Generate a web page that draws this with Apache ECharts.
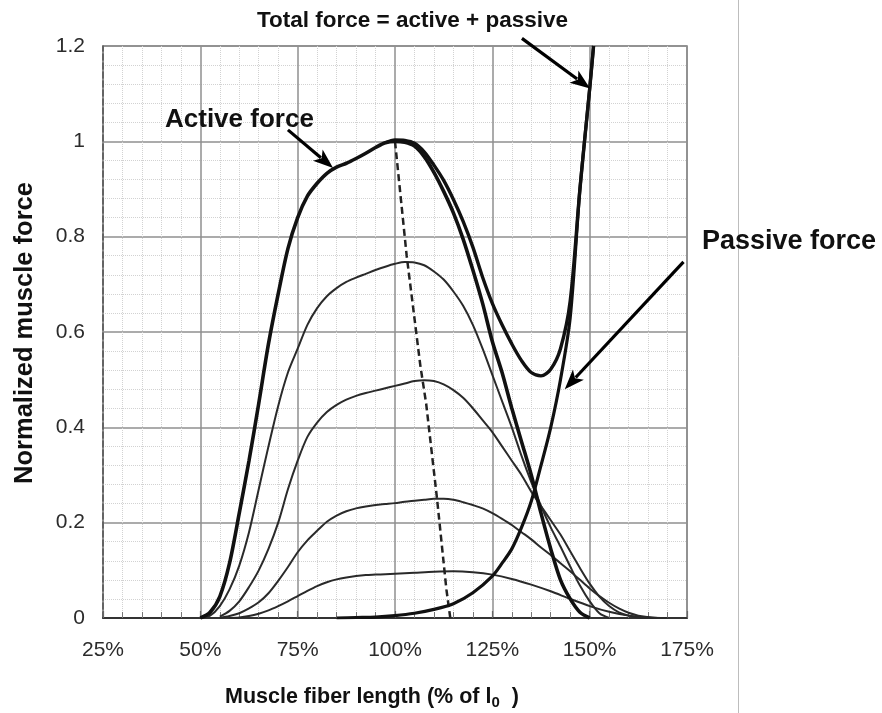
<!DOCTYPE html>
<html><head><meta charset="utf-8">
<script src="https://cdn.jsdelivr.net/npm/echarts@6/dist/echarts.min.js"></script>
<style>html,body{margin:0;padding:0;background:#fff}#c{width:882px;height:713px}</style>
</head><body><div id="c"></div>
<script>
// ---- data (fiber length in % of l0, normalized force) ----
const xTicks = [25, 50, 75, 100, 125, 150, 175];
const yTicks = [0, 0.2, 0.4, 0.6, 0.8, 1, 1.2];

const activeX = [50,52.5,55,57.5,60,62.5,65,67.5,70,72.5,75,77.5,80,82.5,85,87.5,90,92.5,95,97.5,100,102.5,105,107.5,110,112.5,115,117.5,120,122.5,125,127.5,130,132.5,135,137.5,140,142.5,145,147.5,150];
const activeY = [0,0.012,0.045,0.115,0.22,0.33,0.45,0.575,0.68,0.775,0.84,0.885,0.912,0.933,0.946,0.954,0.964,0.975,0.987,0.997,1.0,0.998,0.99,0.968,0.935,0.895,0.85,0.795,0.73,0.66,0.58,0.515,0.44,0.37,0.30,0.22,0.145,0.08,0.04,0.012,0];

const totalX = [97.5,100,102.5,105,107.5,110,112.5,115,117.5,120,122.5,125,127.5,130,132.5,135,137.5,140,142.5,145,147.5,150,151];
const totalY = [0.997,1.003,1.002,0.996,0.978,0.95,0.918,0.878,0.832,0.778,0.715,0.66,0.615,0.575,0.54,0.515,0.508,0.522,0.565,0.665,0.9,1.11,1.2];

const passiveX = [85,90,95,100,105,110,115,120,125,127.5,130,132.5,135,137.5,140,142.5,145,147.5,150,151];
const passiveY = [0,0.001,0.002,0.005,0.01,0.018,0.03,0.053,0.088,0.115,0.145,0.19,0.245,0.32,0.40,0.5,0.63,0.9,1.11,1.2];

const a75X = [50,52.5,55,57.5,60,62.5,65,67.5,70,72.5,75,77.5,80,82.5,85,87.5,90,92.5,95,97.5,100,102.5,105,107.5,110,112.5,115,117.5,120,122.5,125,127.5,130,132.5,135,137.5,140,142.5,145,147.5,150,152.5,155];
const a75Y = [0,0.005,0.025,0.06,0.11,0.18,0.27,0.36,0.445,0.515,0.565,0.615,0.65,0.675,0.692,0.705,0.714,0.722,0.73,0.737,0.743,0.747,0.746,0.74,0.727,0.71,0.685,0.655,0.615,0.565,0.51,0.455,0.4,0.34,0.285,0.235,0.19,0.15,0.108,0.068,0.035,0.01,0];

const a50X = [55,57.5,60,62.5,65,67.5,70,72.5,75,77.5,80,82.5,85,87.5,90,92.5,95,97.5,100,102.5,105,107.5,110,112.5,115,117.5,120,122.5,125,127.5,130,132.5,135,137.5,140,142.5,145,147.5,150,152.5,155,157.5,160,162.5,165];
const a50Y = [0.003,0.015,0.035,0.065,0.1,0.145,0.2,0.27,0.33,0.38,0.41,0.432,0.447,0.458,0.466,0.472,0.477,0.482,0.487,0.492,0.497,0.499,0.497,0.49,0.478,0.462,0.44,0.415,0.39,0.36,0.33,0.3,0.265,0.235,0.205,0.175,0.14,0.105,0.072,0.045,0.025,0.012,0.005,0.001,0];

const a25X = [55,57.5,60,62.5,65,67.5,70,72.5,75,77.5,80,82.5,85,87.5,90,92.5,95,97.5,100,102.5,105,107.5,110,112.5,115,117.5,120,122.5,125,127.5,130,132.5,135,137.5,140,142.5,145,147.5,150,152.5,155,157.5,160,162.5,165,167.5];
const a25Y = [0,0.004,0.01,0.02,0.033,0.052,0.078,0.107,0.138,0.163,0.183,0.202,0.215,0.224,0.23,0.234,0.237,0.239,0.241,0.244,0.246,0.248,0.25,0.25,0.248,0.243,0.237,0.23,0.22,0.208,0.195,0.18,0.165,0.148,0.132,0.115,0.098,0.08,0.062,0.046,0.032,0.02,0.011,0.005,0.002,0];

const a10X = [57.5,60,62.5,65,67.5,70,72.5,75,77.5,80,82.5,85,87.5,90,92.5,95,97.5,100,105,110,115,120,125,130,135,140,145,150,155,160,165,170];
const a10Y = [0,0.001,0.004,0.009,0.016,0.025,0.035,0.046,0.057,0.067,0.075,0.081,0.085,0.088,0.09,0.091,0.092,0.093,0.095,0.097,0.098,0.096,0.091,0.082,0.07,0.056,0.04,0.025,0.013,0.005,0.001,0];

const peakX = [100,103,106.5,108,110.8,113.2,114.2];
const peakY = [1.0,0.76,0.53,0.45,0.25,0.06,0];

// annotation arrows (data space): tail -> tip
const arrowActive  = [[72.5, 1.024], [84.1, 0.944]];
const arrowTotal   = [[132.6, 1.216], [150.1, 1.111]];
const arrowPassive = [[174.1, 0.747], [143.6, 0.48]];

const labelTotal   = 'Total force = active + passive';
const labelActive  = 'Active force';
const labelPassive = 'Passive force';
const yTitle = 'Normalized muscle force';

// ---- chart ----
const FONT = '"Liberation Sans", Arial, Helvetica, sans-serif';
const pairs = (xs, ys) => xs.map((x, i) => [x, ys[i]]);
const chart = echarts.init(document.getElementById('c'), null, {renderer: 'canvas'});

function curve(name, xs, ys, width, color, z) {
  return {
    name, type: 'line', data: pairs(xs, ys), showSymbol: false, symbol: 'none',
    smooth: 0.3, z: z,
    lineStyle: {color: color, width: width}, emphasis: {disabled: true}
  };
}

const option = {
  animation: false,
  backgroundColor: '#fff',
  grid: {left: 103, right: 195, top: 46, bottom: 95, show: true, borderColor: '#7a7a7a', borderWidth: 1.5},
  xAxis: {
    type: 'value', min: xTicks[0], max: xTicks[xTicks.length - 1], interval: 25,
    axisLine: {show: true, onZero: false, lineStyle: {color: '#333', width: 2}},
    axisTick: {show: true, inside: true, length: 7, lineStyle: {color: '#666', width: 1.2}},
    minorTick: {show: true, splitNumber: 5, length: 6, lineStyle: {color: '#777', width: 1}},
    axisLabel: {formatter: '{value}%', fontSize: 21, color: '#2b2b2b', margin: 22, fontFamily: FONT},
    splitLine: {show: true, lineStyle: {color: '#8f8f8f', width: 1.5}},
    minorSplitLine: {show: true, lineStyle: {color: '#d2d2d2', type: 'dotted', width: 1}}
  },
  yAxis: {
    type: 'value', min: yTicks[0], max: yTicks[yTicks.length - 1], interval: 0.2,
    axisLine: {show: true, lineStyle: {color: '#555', width: 1.5, type: [6, 3]}},
    axisTick: {show: false},
    minorTick: {show: false, splitNumber: 5},
    axisLabel: {fontSize: 21, color: '#2b2b2b', margin: 18, fontFamily: FONT},
    splitLine: {show: true, lineStyle: {color: '#8f8f8f', width: 1.5}},
    minorSplitLine: {show: true, lineStyle: {color: '#d2d2d2', type: 'dotted', width: 1}}
  },
  series: [
    curve('a10', a10X, a10Y, 2, '#2a2a2a', 2),
    curve('a25', a25X, a25Y, 2, '#2a2a2a', 2),
    curve('a50', a50X, a50Y, 2, '#2a2a2a', 2),
    curve('a75', a75X, a75Y, 2, '#2a2a2a', 2),
    {
      name: 'peaks', type: 'line', data: pairs(peakX, peakY), showSymbol: false, symbol: 'none',
      smooth: false, z: 3, lineStyle: {color: '#222', width: 2.5, type: [7, 4]}
    },
    curve('passive', passiveX, passiveY, 3.2, '#111', 4),
    curve('total', totalX, totalY, 3.4, '#111', 5),
    curve('active', activeX, activeY, 3.6, '#111', 6)
  ]
};
chart.setOption(option);

// ---- annotations ----
function arrow(a) {
  const p0 = chart.convertToPixel({gridIndex: 0}, a[0]);
  const p1 = chart.convertToPixel({gridIndex: 0}, a[1]);
  const dx = p1[0] - p0[0], dy = p1[1] - p0[1];
  const len = Math.sqrt(dx * dx + dy * dy);
  const ux = dx / len, uy = dy / len, nx = -uy, ny = ux;
  const L = 20, W = 7.5;
  const bx = p1[0] - ux * L, by = p1[1] - uy * L;
  return [
    {type: 'line', z: 100, shape: {x1: p0[0], y1: p0[1], x2: bx + ux * 4, y2: by + uy * 4},
     style: {stroke: '#000', lineWidth: 3.2}},
    {type: 'polygon', z: 100, shape: {points: [p1, [bx + nx * W, by + ny * W], [bx + ux * 5, by + uy * 5], [bx - nx * W, by - ny * W]]},
     style: {fill: '#000'}}
  ];
}

const graphics = [].concat(
  arrow(arrowActive), arrow(arrowTotal), arrow(arrowPassive),
  [
    {type: 'line', z: 1, shape: {x1: 738.5, y1: 0, x2: 738.5, y2: 713}, style: {stroke: '#bdbdbd', lineWidth: 1}},
    {type: 'text', z: 101, x: 412.5, y: 21, style: {text: labelTotal, font: 'bold 22.5px ' + FONT, fill: '#111', textAlign: 'center', textVerticalAlign: 'middle'}},
    {type: 'text', z: 101, x: 165, y: 120, style: {text: labelActive, font: 'bold 26px ' + FONT, fill: '#111', textAlign: 'left', textVerticalAlign: 'middle'}},
    {type: 'text', z: 101, x: 702, y: 242, style: {text: labelPassive, font: 'bold 27px ' + FONT, fill: '#111', textAlign: 'left', textVerticalAlign: 'middle'}},
    {type: 'text', z: 101, x: 25, y: 333, rotation: Math.PI / 2,
     style: {text: yTitle, font: 'bold 25.5px ' + FONT, fill: '#111', textAlign: 'center', textVerticalAlign: 'middle'}},
    {type: 'text', z: 101, x: 225, y: 697,
     style: {
       text: '{a|Muscle fiber length (% of l}{s|0}{a|  )}',
       textAlign: 'left', textVerticalAlign: 'middle',
       rich: {
         a: {fontSize: 21.5, fontWeight: 'bold', fontFamily: FONT, fill: '#111', color: '#111', lineHeight: 26, verticalAlign: 'middle'},
         s: {fontSize: 15, fontWeight: 'bold', fontFamily: FONT, fill: '#111', color: '#111', lineHeight: 26, verticalAlign: 'bottom'}
       }
     }}
  ]
);
chart.setOption({graphic: graphics});
</script>
</body></html>
